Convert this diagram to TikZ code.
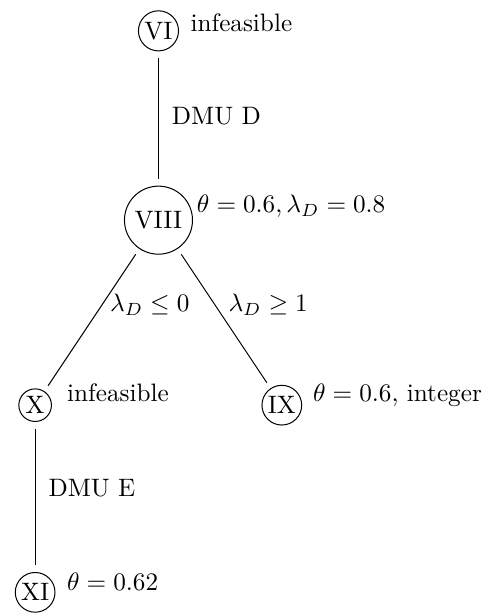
\documentclass[tikz,border=0pt]{standalone}
\usepackage{amsmath}
\usepackage{amssymb}

\begin{document}
\begin{tikzpicture}[
    bbnode/.style={circle, draw, inner sep=1pt, outer sep=2.8pt},
    info/.style={anchor=base west, inner sep=0pt}
]
\useasboundingbox (0,0) rectangle (6.82,-8.59);

% --- Tree nodes ---
\node[bbnode] (n6) at (2.21,-0.43) {VI};
\node[bbnode, minimum size=27pt] (n8) at (2.21,-3.07) {VIII};
\node[bbnode] (n10) at (0.49,-5.65) {X};
\node[bbnode] (n9) at (3.93,-5.65) {IX};
\node[bbnode] (n11) at (0.49,-8.26) {XI};

% --- Node results ---
\node[info] (r6) at (2.65,-0.44) {infeasible};
\node[info] (r8) at (2.74,-2.97) {$\theta=0.6, \lambda_D=0.8$};
\node[info] (r10) at (0.93,-5.60) {infeasible};
\node[info] (r9) at (4.36,-5.60) {$\theta=0.6$, integer};
\node[info] (r11) at (0.93,-8.23) {$\theta=0.62$};

% --- Branches ---
\draw (n6) -- (n8);
\draw (n8) -- (n10);
\draw (n8) -- (n9);
\draw (n10) -- (n11);

% --- Branch labels ---
\node[info] (b68) at (2.39,-1.74) {DMU D};
\node[info] (b810) at (1.53,-4.35) {$\lambda_D\leq 0$};
\node[info] (b89) at (3.18,-4.35) {$\lambda_D\geq 1$};
\node[info] (b1011) at (0.67,-6.92) {DMU E};

\end{tikzpicture}
\end{document}
